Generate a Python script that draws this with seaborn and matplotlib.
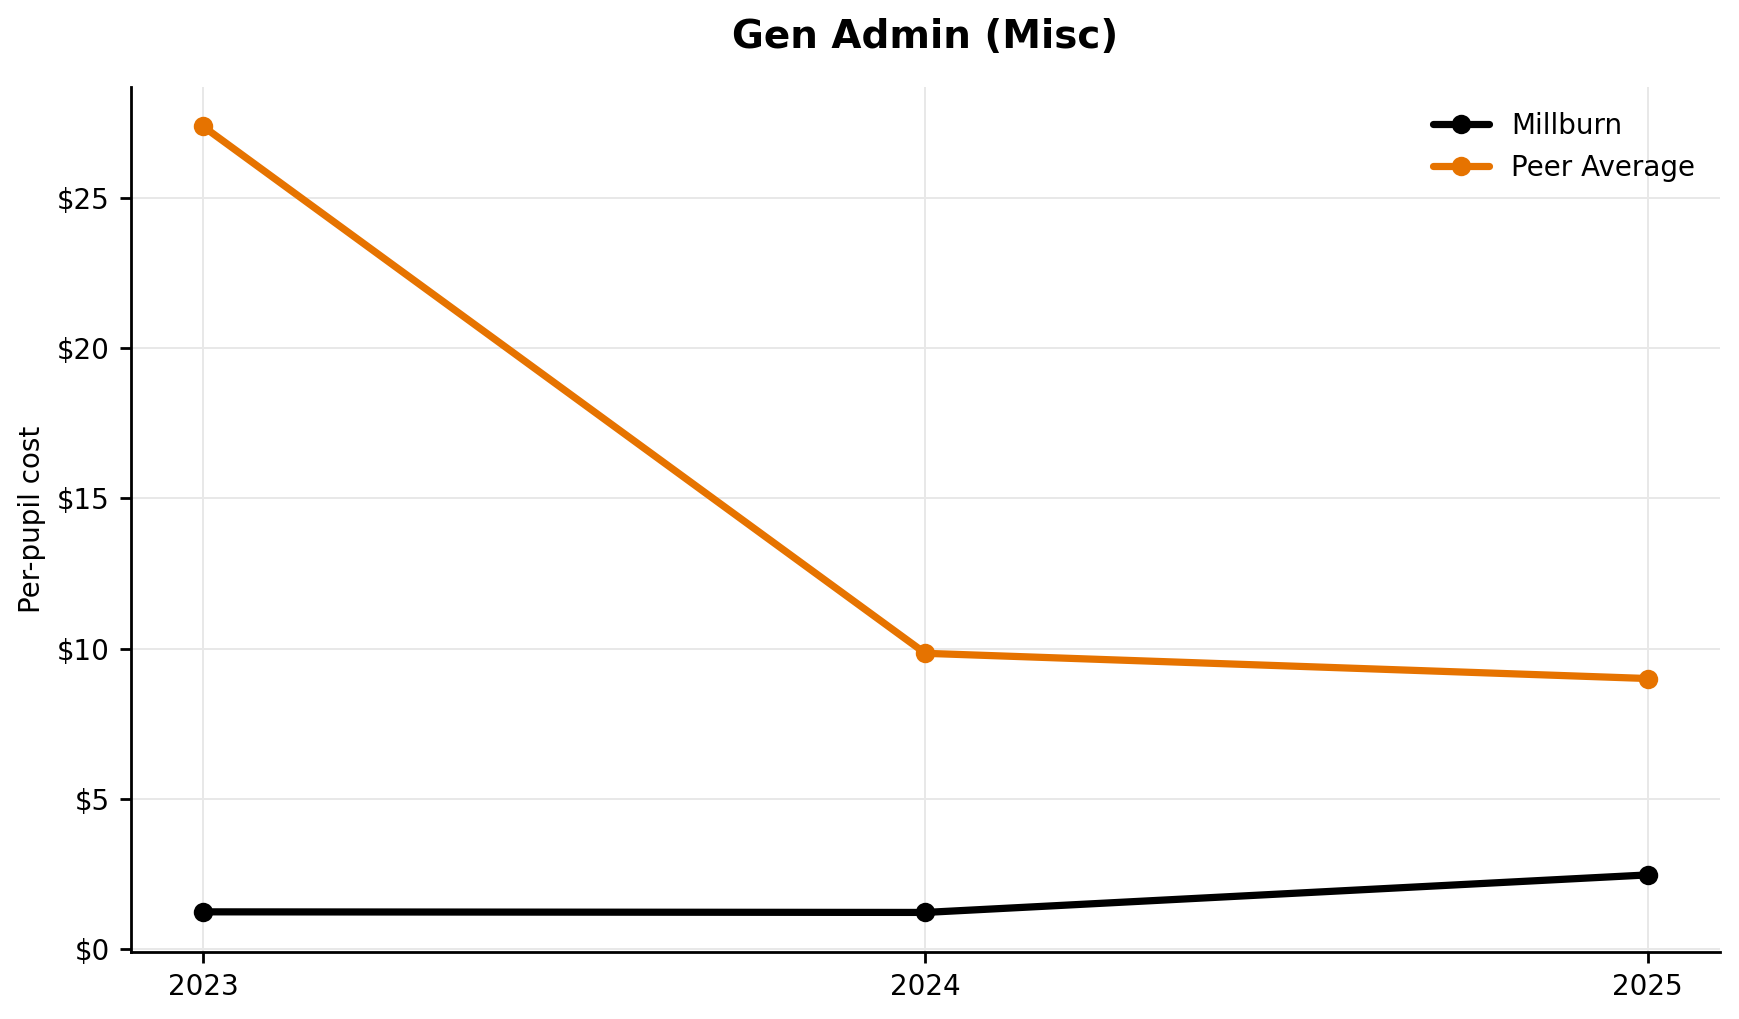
import pandas as pd
import seaborn as sns
import matplotlib.pyplot as plt
from matplotlib.ticker import FuncFormatter

years = [2023, 2024, 2025]
millburn = [1.23, 1.21, 2.46]
peer_avg = [27.39, 9.84, 9.00]
series_names = ["Millburn", "Peer Average"]
colors = {"Millburn": "#000000", "Peer Average": "#E67300"}

df = pd.DataFrame({
    "year": years * 2,
    "cost": millburn + peer_avg,
    "series": [series_names[0]] * 3 + [series_names[1]] * 3,
})

sns.set_style("white")
plt.rcParams["font.family"] = ["DejaVu Sans"]
plt.rcParams.update({
    "text.color": "black",
    "axes.labelcolor": "black",
    "xtick.color": "black",
    "ytick.color": "black",
})

fig, ax = plt.subplots(figsize=(8.695, 5.095), dpi=200)
fig.subplots_adjust(left=0.0752, right=0.989, top=0.9146, bottom=0.066)

sns.lineplot(data=df, x="year", y="cost", hue="series", palette=colors,
             marker="o", markersize=7, markeredgewidth=0, linewidth=2.6, ax=ax)

ax.set_title("Gen Admin (Misc)", fontsize=14, fontweight="bold", pad=14)
ax.set_xlabel("")
ax.set_ylabel("Per-pupil cost", fontsize=10)
ax.set_xticks(years)
ax.set_xticklabels([str(y) for y in years])
ax.yaxis.set_major_formatter(FuncFormatter(lambda v, p: f"${v:.0f}"))
ax.tick_params(axis="both", labelsize=10, length=4, width=1, bottom=True, left=True)
ax.grid(True, color="#e8e8e8", linewidth=0.7)
ax.set_axisbelow(True)
for s in ["top", "right"]:
    ax.spines[s].set_visible(False)
for s in ["left", "bottom"]:
    ax.spines[s].set_color("black")
    ax.spines[s].set_linewidth(1)

leg = ax.legend(loc="upper right", frameon=False, fontsize=10)
leg.set_title(None)

plt.savefig("out.png", dpi=200)
